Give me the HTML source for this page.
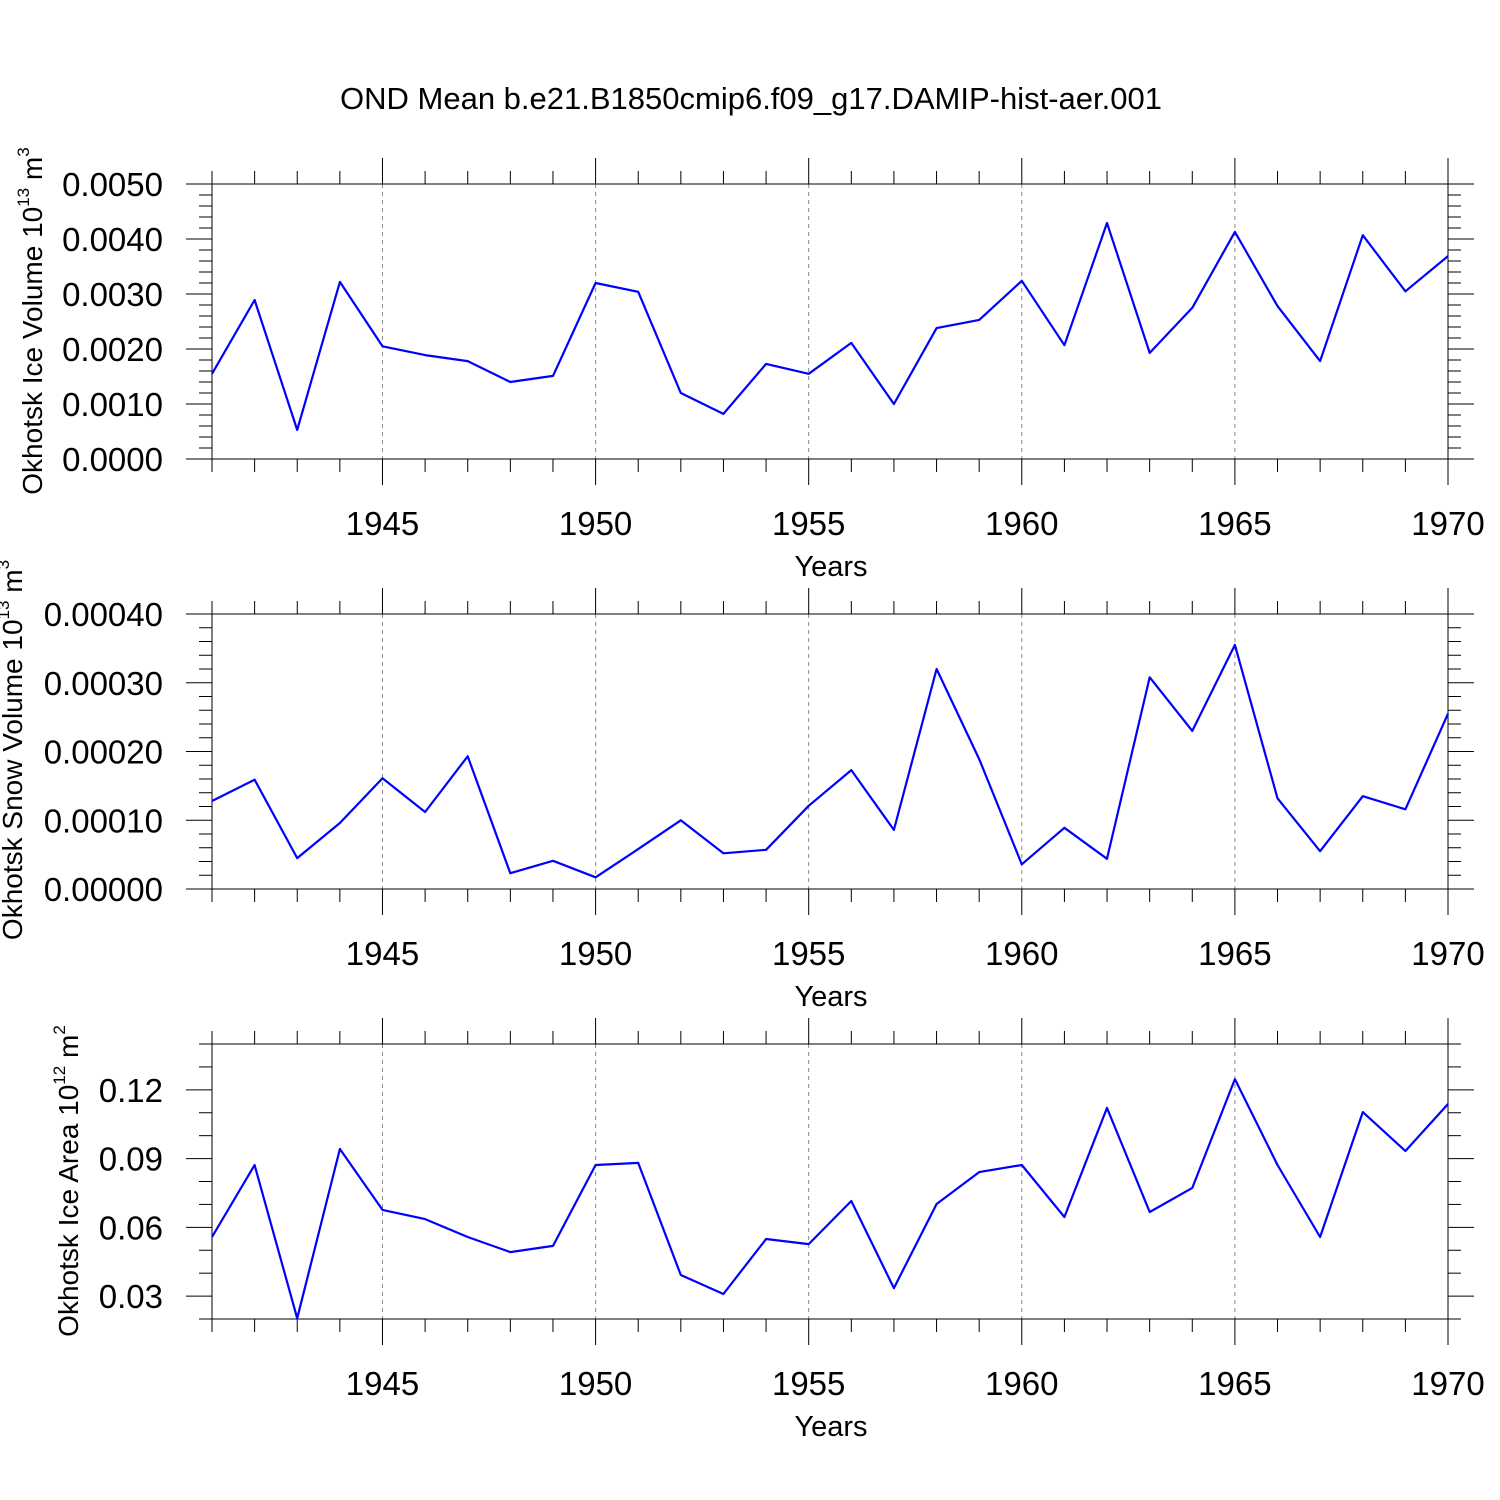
<!DOCTYPE html>
<html><head><meta charset="utf-8"><style>
html,body{margin:0;padding:0;background:#fff;}
svg{display:block;font-family:"Liberation Sans",sans-serif;}
</style></head><body>
<svg id="chart" width="1500" height="1500" viewBox="0 0 1500 1500" xmlns="http://www.w3.org/2000/svg">
<rect width="1500" height="1500" fill="#fff"/>
<text x="751" y="109" font-size="31" text-anchor="middle">OND Mean b.e21.B1850cmip6.f09_g17.DAMIP-hist-aer.001</text>
</svg>
<script>
const years = [1941,1942,1943,1944,1945,1946,1947,1948,1949,1950,1951,1952,1953,1954,1955,1956,1957,1958,1959,1960,1961,1962,1963,1964,1965,1966,1967,1968,1969,1970];
const iceVolume = [0.00155,0.00289,0.00053,0.00322,0.00205,0.00189,0.00178,0.0014,0.00151,0.0032,0.00304,0.0012,0.00082,0.00173,0.00155,0.00211,0.001,0.00238,0.00253,0.00324,0.00207,0.00429,0.00193,0.00275,0.00413,0.00278,0.00178,0.00407,0.00305,0.00369];
const snowVolume = [0.000128,0.000159,0.000045,0.000096,0.000161,0.000112,0.000193,0.000023,0.000041,0.000017,0.000058,0.0001,0.000052,0.000057,0.000121,0.000173,0.000086,0.00032,0.000189,0.000036,0.000089,0.000044,0.000308,0.00023,0.000355,0.000132,0.000055,0.000135,0.000116,0.000255];
const iceArea = [0.0558,0.0872,0.0203,0.0942,0.0676,0.0636,0.0558,0.0492,0.0519,0.0872,0.0881,0.0392,0.0309,0.0549,0.0527,0.0715,0.0335,0.0702,0.0841,0.0872,0.0645,0.1121,0.0667,0.0772,0.1247,0.0872,0.0558,0.1103,0.0933,0.1138];
const xTicks = [1945,1950,1955,1960,1965,1970];
const yTicks1 = ["0.0000","0.0010","0.0020","0.0030","0.0040","0.0050"];
const yTicks2 = ["0.00000","0.00010","0.00020","0.00030","0.00040"];
const yTicks3 = ["0.03","0.06","0.09","0.12"];

const svg = document.getElementById('chart');
const NS = 'http://www.w3.org/2000/svg';
function mk(tag, attrs, parent){
  const e = document.createElementNS(NS, tag);
  for (const k in attrs) e.setAttribute(k, attrs[k]);
  (parent||svg).appendChild(e);
  return e;
}
const X0=212, X1=1448;
function xs(yr){ return X0 + (yr-1941)/(1970-1941)*(X1-X0); }

function panel(cfg){
  const g = mk('g',{});
  
  
  const top=cfg.top, bot=cfg.top+275;
  const ys = v => bot - (v-cfg.ymin)/(cfg.ymax-cfg.ymin)*(bot-top);
  xTicks.forEach(t=>{ if(t<1970) mk('line',{x1:xs(t),x2:xs(t),y1:top,y2:bot,stroke:'#888','stroke-width':1,'stroke-dasharray':'4,4'},g); });
  mk('rect',{x:X0,y:top,width:X1-X0,height:bot-top,fill:'none',stroke:'#000','stroke-width':1},g);
  for(let yr=1941; yr<=1970; yr++){
    const major = yr%5===0, L = major?26:13, x=xs(yr);
    mk('line',{x1:x,x2:x,y1:top,y2:top-L,stroke:'#000','stroke-width':1},g);
    mk('line',{x1:x,x2:x,y1:bot,y2:bot+L,stroke:'#000','stroke-width':1},g);
  }
  xTicks.forEach(t=>{
    const tx = mk('text',{x:xs(t),y:bot+76,'font-size':33,'text-anchor':'middle'},g);
    
    
    tx.textContent=t;
  });
  const xt = mk('text',{x:831,y:bot+117,'font-size':29,'text-anchor':'middle'},g);
  
  
  xt.textContent='Years';
  const nMinor = Math.round((cfg.ymax-cfg.ymin)/cfg.minor);
  for(let i=0;i<=nMinor;i++){
    const v = cfg.ymin + i*cfg.minor;
    const rel = (v-cfg.majorStart)/cfg.major;
    const major = Math.abs(rel-Math.round(rel))<1e-6 && v>=cfg.majorStart-1e-12;
    const L = major?26:13, y=ys(v);
    mk('line',{x1:X0,x2:X0-L,y1:y,y2:y,stroke:'#000','stroke-width':1},g);
    mk('line',{x1:X1,x2:X1+L,y1:y,y2:y,stroke:'#000','stroke-width':1},g);
  }
  cfg.labels.forEach(lab=>{
    const tx = mk('text',{x:163,y:ys(parseFloat(lab))+12,'font-size':33,'text-anchor':'end'},g);
    
    
    tx.textContent=lab;
  });
  const yt = mk('text',{x:0,y:0,'font-size':28,'text-anchor':'middle',transform:`translate(${cfg.titleX},${cfg.titleY}) rotate(-90)`},g);
  
  
  yt.appendChild(document.createTextNode(cfg.title+' 10'));
  const s1 = mk('tspan',{'font-size':17,dy:-13},yt); s1.textContent=cfg.exp;
  const s2 = mk('tspan',{dy:13},yt); s2.textContent=' m';
  const s3 = mk('tspan',{'font-size':17,dy:-13},yt); s3.textContent=cfg.unitExp;
  const pts = cfg.data.map((v,i)=>xs(years[i]).toFixed(1)+','+ys(v).toFixed(1)).join(' ');
  const pl = mk('polyline',{points:pts,fill:'none',stroke:'#0000ff','stroke-width':2.2,'stroke-linejoin':'round'},g);
  
  
}
panel({name:'ice-volume-panel',top:184,ymin:0,ymax:0.005,minor:0.0002,major:0.001,majorStart:0,labels:yTicks1,data:iceVolume,title:'Okhotsk Ice Volume',exp:'13',unitExp:'3',titleX:42,titleY:321});
panel({name:'snow-volume-panel',top:614,ymin:0,ymax:0.0004,minor:0.00002,major:0.0001,majorStart:0,labels:yTicks2,data:snowVolume,title:'Okhotsk Snow Volume',exp:'13',unitExp:'3',titleX:22,titleY:750});
panel({name:'ice-area-panel',top:1044,ymin:0.02,ymax:0.14,minor:0.01,major:0.03,majorStart:0.03,labels:yTicks3,data:iceArea,title:'Okhotsk Ice Area',exp:'12',unitExp:'2',titleX:78,titleY:1181});
</script>
</body></html>
